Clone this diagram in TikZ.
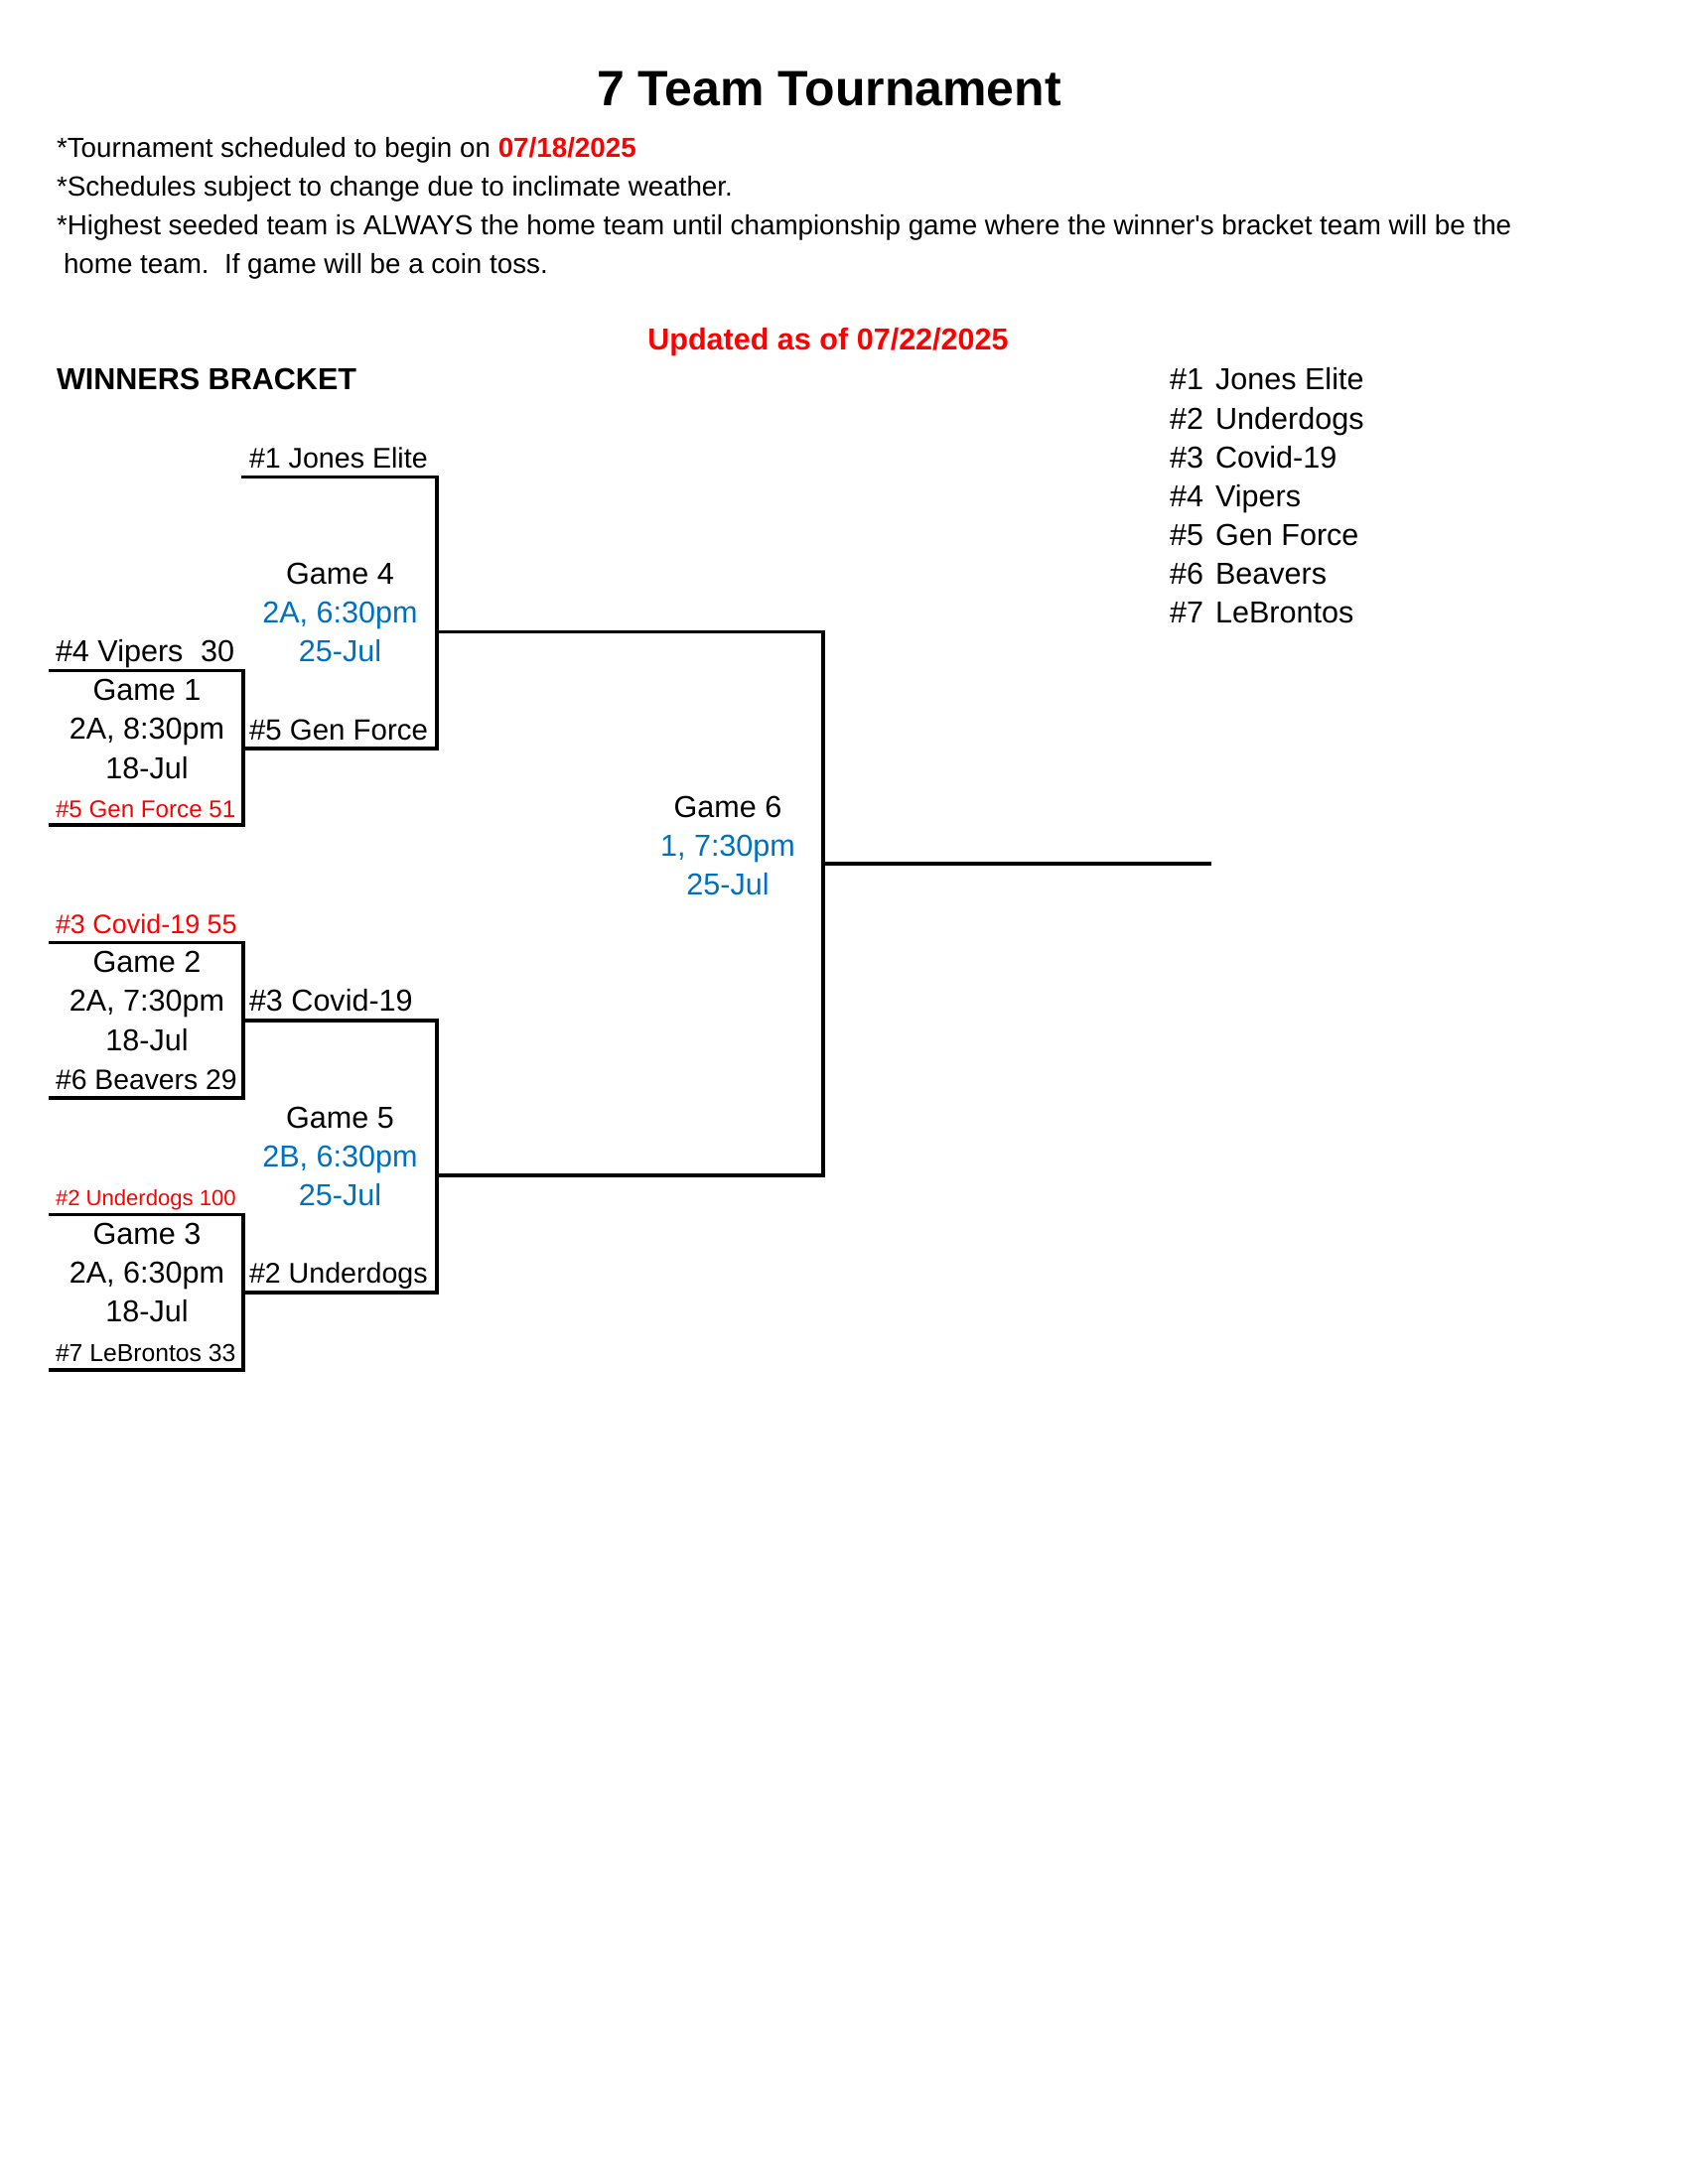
\documentclass[tikz,border=0pt]{standalone}
\usepackage{fontspec}
\setmainfont{Liberation Sans}
\newfontfamily\rawfont{Liberation Sans}
\definecolor{xblue}{RGB}{0,112,192}
\definecolor{xred}{RGB}{255,0,0}
\begin{document}
\begin{tikzpicture}[x=0.36pt,y=-0.36pt,
  txt/.style={inner sep=0pt,outer sep=0pt,font=\fontsize{11}{13}\selectfont},
  note/.style={inner sep=0pt,outer sep=0pt,anchor=base west,font=\fontsize{10}{12}\selectfont},
  ctr/.style={txt,anchor=base},
  lft/.style={txt,anchor=base west},
  rgt/.style={txt,anchor=base east},
  blu/.style={text=xblue},
  bracket/.style={line width=1.25pt,line join=miter,line cap=rect}]
\useasboundingbox (0,0) rectangle (1700,2200);
\fill[white] (0,0) rectangle (1700,2200);

% header
\node[ctr,font=\fontsize{18}{21}\bfseries\selectfont] (title) at (835,107) {7 Team Tournament};
\node[note] (n1) at (57,159) {*Tournament scheduled to begin on \textcolor{xred}{\bfseries 07/18/2025}};
\node[note] (n2) at (57,198) {*Schedules subject to change due to inclimate weather.};
\node[note] (n3) at (57,237) {*Highest seeded team is ALWAYS the home team until championship game where the winner{\rawfont'}s bracket team will be the};
\node[note] (n4) at (64,276) {home team.\ \ If game will be a coin toss.};
\node[ctr,font=\fontsize{11}{13}\bfseries\selectfont,text=xred] (upd) at (834,353) {Updated as of 07/22/2025};
\node[lft,font=\fontsize{11}{13}\bfseries\selectfont] (wb) at (57,393) {WINNERS BRACKET};

% seed list
\node[lft] (s1) at (1178,393) {\makebox[16.6pt][l]{\#1}Jones Elite};
\node[lft] (s2) at (1178,432) {\makebox[16.6pt][l]{\#2}Underdogs};
\node[lft] (s3) at (1178,471) {\makebox[16.6pt][l]{\#3}Covid-19};
\node[lft] (s4) at (1178,510) {\makebox[16.6pt][l]{\#4}Vipers};
\node[lft] (s5) at (1178,549) {\makebox[16.6pt][l]{\#5}Gen Force};
\node[lft] (s6) at (1178,588) {\makebox[16.6pt][l]{\#6}Beavers};
\node[lft] (s7) at (1178,627) {\makebox[16.6pt][l]{\#7}LeBrontos};

% bracket corner coordinates
\coordinate (g1a) at (51,675.5);  \coordinate (g1b) at (245,675.5);
\coordinate (g1c) at (245,831);   \coordinate (g1d) at (51,831);
\coordinate (g2a) at (51,949.6);  \coordinate (g2b) at (245,949.6);
\coordinate (g2c) at (245,1106);  \coordinate (g2d) at (51,1106);
\coordinate (g3a) at (51,1223.5); \coordinate (g3b) at (245,1223.5);
\coordinate (g3c) at (245,1380);  \coordinate (g3d) at (51,1380);
\coordinate (g4a) at (245,480.5); \coordinate (g4b) at (440,480.5);
\coordinate (g4c) at (440,754);   \coordinate (g4d) at (245,754);
\coordinate (g4m) at (440,636.5); \coordinate (g6a) at (829,636.5);
\coordinate (g5a) at (245,1028);  \coordinate (g5b) at (440,1028);
\coordinate (g5c) at (440,1302);  \coordinate (g5d) at (245,1302);
\coordinate (g5m) at (440,1184);  \coordinate (g6b) at (829,1184);
\coordinate (g6m) at (829,870);   \coordinate (g6e) at (1218,870);

\draw[bracket] (g1a) -- (g1b) -- (g1c) -- (g1d);
\draw[bracket] (g2a) -- (g2b) -- (g2c) -- (g2d);
\draw[bracket] (g3a) -- (g3b) -- (g3c) -- (g3d);
\draw[bracket] (g4a) -- (g4b) -- (g4c) -- (g4d);
\draw[bracket] (g5a) -- (g5b) -- (g5c) -- (g5d);
\draw[bracket] (g4m) -- (g6a) -- (g6b) -- (g5m);
\draw[bracket] (g6m) -- (g6e);

% game 1
\node[lft] (t4) at (56,666.7) {\#4 Vipers};
\node[rgt] (t4s) at (236,666.7) {30};
\node[ctr] (g1t) at (148,705.8) {Game 1};
\node[ctr] (g1i) at (148,744.9) {2A, 8:30pm};
\node[ctr] (g1d8) at (148,784) {18-Jul};
\node[lft,font=\fontsize{8.7}{10}\selectfont,text=xred] (t5) at (56,823.2) {\#5 Gen Force 51};

% game 2
\node[lft,font=\fontsize{9.7}{11}\selectfont,text=xred] (t3) at (56,940.6) {\#3 Covid-19 55};
\node[ctr] (g2t) at (148,979.7) {Game 2};
\node[ctr] (g2i) at (148,1018.8) {2A, 7:30pm};
\node[ctr] (g2d8) at (148,1058) {18-Jul};
\node[lft,font=\fontsize{10.2}{12}\selectfont] (t6) at (56,1097) {\#6 Beavers 29};

% game 3
\node[lft,font=\fontsize{7.95}{10}\selectfont,text=xred] (t2) at (56,1214.5) {\#2 Underdogs 100};
\node[ctr] (g3t) at (148,1253.6) {Game 3};
\node[ctr] (g3i) at (148,1292.7) {2A, 6:30pm};
\node[ctr] (g3d8) at (148,1331.9) {18-Jul};
\node[lft,font=\fontsize{8.9}{10}\selectfont] (t7) at (56,1371) {\#7 LeBrontos 33};

% game 4
\node[lft,font=\fontsize{10.3}{12}\selectfont] (w1) at (251,471) {\#1 Jones Elite};
\node[ctr] (g4t) at (342.5,588.4) {Game 4};
\node[ctr,blu] (g4i) at (342.5,627.5) {2A, 6:30pm};
\node[ctr,blu] (g4d) at (342.5,666.7) {25-Jul};
\node[lft,font=\fontsize{10.6}{12}\selectfont] (w5) at (251,745) {\#5 Gen Force};

% game 5
\node[lft] (w3) at (251,1018.8) {\#3 Covid-19};
\node[ctr] (g5t) at (342.5,1136.2) {Game 5};
\node[ctr,blu] (g5i) at (342.5,1175.3) {2B, 6:30pm};
\node[ctr,blu] (g5d) at (342.5,1214.5) {25-Jul};
\node[lft,font=\fontsize{10.3}{12}\selectfont] (w2) at (251,1292.7) {\#2 Underdogs};

% game 6
\node[ctr] (g6t) at (733,823.2) {Game 6};
\node[ctr,blu] (g6i) at (733,862.3) {1, 7:30pm};
\node[ctr,blu] (g6d) at (733,901.4) {25-Jul};
\end{tikzpicture}
\end{document}
